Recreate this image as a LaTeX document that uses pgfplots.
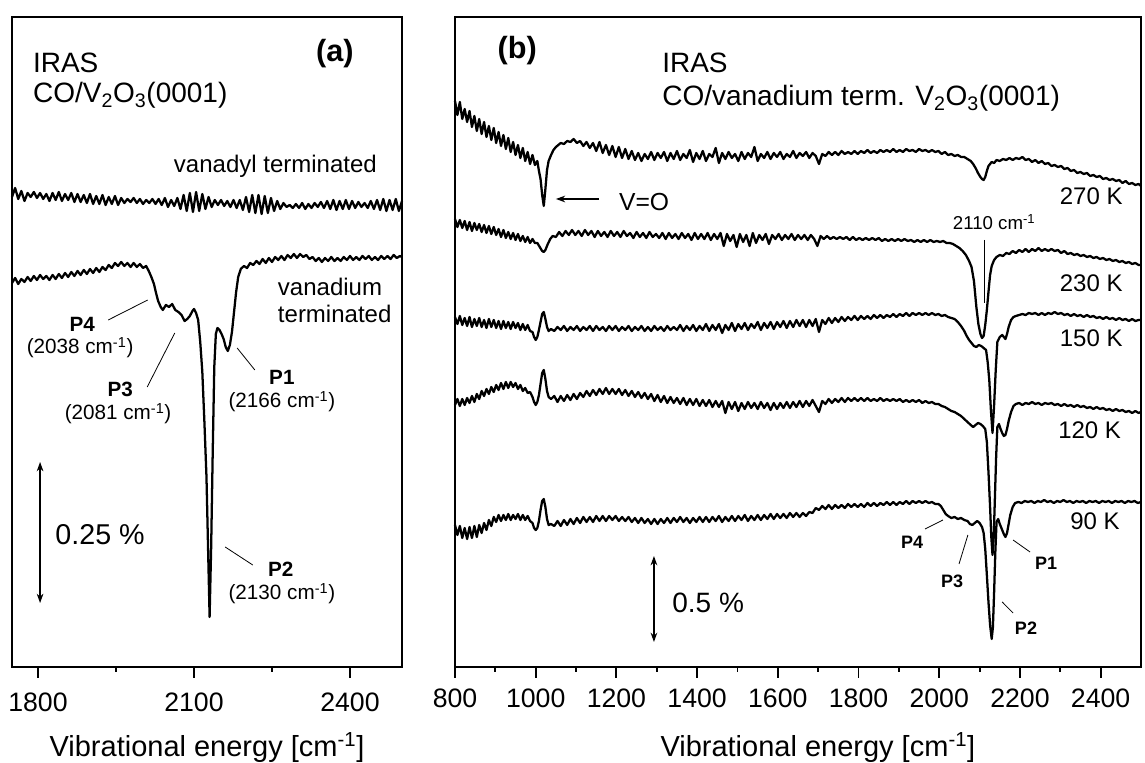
\documentclass[border=0pt]{standalone}
\usepackage{fontspec}
\setmainfont{Liberation Sans}
\usepackage{pgfplots}
\pgfplotsset{compat=1.18}
\usetikzlibrary{arrows.meta}
\newcommand\fs[1]{\fontsize{#1}{#1}\selectfont}
\tikzset{lab/.style={inner sep=0pt}, tr/.style={line width=1.7pt, black, line join=round, mark=none}}
\begin{document}
\begin{tikzpicture}
\useasboundingbox (0,0) rectangle (858.75pt,572.25pt);
\pgfplotsset{
 common/.style={
  scale only axis, height=487.5pt, ymin=0, ymax=650, ytick=\empty,
  axis line style={line width=1.6pt},
  tick align=outside, xtick pos=bottom,
  major tick length=8.25pt, minor tick length=3.75pt,
  tick style={line width=1.4pt, black},
  /pgf/number format/assume math mode=true,
  /pgf/number format/1000 sep={},
  clip=false,
 }
}
% ---------------- Panel (a) ----------------
\begin{axis}[common, at={(9pt,72pt)}, anchor=south west, width=292.5pt,
  xmin=1750, xmax=2500, xtick={1800,2100,2400}, minor xtick={1950,2250},
  xticklabel style={font=\fs{20}, yshift=-8pt},
  xlabel={Vibrational energy [cm\textsuperscript{-1}]},
  xlabel style={font=\fs{21.75}, anchor=base, at={(axis description cs:0.5,-0.137)}}]
% vanadyl terminated
\addplot[tr] coordinates {(1750,470)(1756,479)(1762,468)(1768,476)(1774,466)(1780,474)(1786,470)(1792,475)(1798,469)(1804,474)(1810,468)(1816,473)(1822,466)(1828,474)(1834,467)(1840,475)(1846,466)(1852,473)(1858,467)(1864,474)(1870,465)(1876,473)(1882,465)(1888,472)(1894,464)(1900,473)(1906,463)(1912,471)(1918,463)(1924,472)(1930,462)(1936,470)(1942,463)(1948,471)(1954,462)(1960,469)(1966,464)(1972,468)(1978,465)(1984,469)(1990,464)(1996,468)(2002,463)(2008,467)(2014,464)(2020,468)(2026,463)(2032,468)(2038,462)(2044,469)(2050,460)(2056,467)(2062,461)(2068,469)(2074,458)(2080,472)(2086,456)(2092,474)(2098,455)(2104,475)(2110,456)(2116,473)(2122,458)(2128,470)(2134,460)(2140,467)(2146,462)(2152,467)(2158,461)(2164,466)(2170,460)(2176,467)(2182,459)(2188,467)(2194,457)(2200,470)(2206,455)(2212,472)(2218,454)(2224,472)(2230,453)(2236,471)(2242,454)(2248,469)(2254,456)(2260,466)(2266,458)(2272,464)(2278,460)(2284,462)(2290,459)(2296,463)(2302,459)(2308,464)(2314,458)(2320,463)(2326,459)(2332,464)(2338,460)(2344,465)(2350,459)(2356,466)(2362,458)(2368,467)(2374,457)(2380,466)(2386,458)(2392,467)(2398,458)(2404,466)(2410,459)(2416,465)(2422,460)(2428,464)(2434,459)(2440,466)(2446,458)(2452,467)(2458,457)(2464,468)(2470,456)(2476,467)(2482,457)(2488,468)(2494,456)(2500,466)};
% vanadium terminated
\addplot[tr] coordinates {(1750,384)(1756,389)(1762,383)(1768,388)(1774,385)(1780,390)(1786,386)(1792,391)(1798,387)(1804,392)(1810,388)(1816,391)(1822,387)(1828,392)(1834,388)(1840,393)(1846,389)(1852,394)(1858,390)(1864,395)(1870,391)(1876,396)(1882,392)(1888,397)(1894,393)(1900,398)(1906,394)(1912,399)(1918,395)(1924,400)(1930,397)(1936,402)(1942,399)(1948,404)(1954,401)(1960,405)(1966,401)(1972,404)(1978,400)(1984,404)(1990,400)(1996,403)(2002,399)(2008,401)(2013,396)(2018,390)(2023,383)(2027,374)(2031,366)(2036,360)(2040,357)(2046,362)(2052,360)(2058,363)(2064,357)(2070,355)(2076,352)(2082,346)(2087,348)(2092,351)(2097,356)(2100,358)(2104,354)(2108,347)(2112,325)(2116,295)(2120,245)(2124,190)(2127,120)(2130,50)(2133,120)(2136,215)(2139,300)(2142,333)(2145,339)(2149,337)(2153,333)(2157,328)(2161,320)(2165,316)(2169,322)(2173,335)(2177,355)(2181,375)(2185,390)(2190,398)(2196,401)(2202,399)(2208,404)(2214,402)(2220,406)(2226,403)(2232,408)(2238,404)(2244,409)(2250,405)(2256,410)(2262,407)(2268,411)(2274,407)(2280,412)(2286,409)(2292,413)(2298,409)(2304,413)(2310,410)(2316,412)(2322,408)(2328,410)(2334,406)(2340,409)(2346,405)(2352,409)(2358,406)(2364,410)(2370,406)(2376,409)(2382,406)(2388,410)(2394,407)(2400,411)(2406,407)(2412,410)(2418,407)(2424,411)(2430,408)(2436,411)(2442,407)(2448,410)(2454,407)(2460,411)(2466,408)(2472,411)(2478,408)(2484,412)(2490,409)(2496,411)(2500,410)};
\node[lab, anchor=center, font=\bfseries\fs{23}] at (axis cs:2371,613) {(a)};
\node[lab, anchor=base west, font=\fs{21}] at (axis cs:1790,594) {IRAS};
\node[lab, anchor=base west, font=\fs{21}] at (axis cs:1790,564) {CO/V\textsubscript{2}O\textsubscript{3}(0001)};
\node[lab, anchor=base west, font=\fs{18}] at (axis cs:2061,494) {vanadyl terminated};
\node[lab, anchor=base west, font=\fs{18}] at (axis cs:2261,371) {vanadium};
\node[lab, anchor=base west, font=\fs{18}] at (axis cs:2261,344) {terminated};
\draw[line width=0.6pt] (axis cs:2011,367) -- (axis cs:1935,347);
\node[lab, anchor=base, font=\bfseries\fs{15.5}] at (axis cs:1885,335) {P4};
\node[lab, anchor=base, font=\fs{15.5}] at (axis cs:1881,313) {(2038 cm\textsuperscript{-1})};
\draw[line width=0.6pt] (axis cs:2063,334) -- (axis cs:2010,280);
\node[lab, anchor=base, font=\bfseries\fs{15.5}] at (axis cs:1958,270) {P3};
\node[lab, anchor=base, font=\fs{15.5}] at (axis cs:1954,247) {(2081 cm\textsuperscript{-1})};
\draw[line width=0.6pt] (axis cs:2183,319) -- (axis cs:2217,297);
\node[lab, anchor=base, font=\bfseries\fs{15.5}] at (axis cs:2269,282) {P1};
\node[lab, anchor=base, font=\fs{15.5}] at (axis cs:2269,259) {(2166 cm\textsuperscript{-1})};
\draw[line width=0.6pt] (axis cs:2160,120) -- (axis cs:2213,102);
\node[lab, anchor=base, font=\bfseries\fs{15.5}] at (axis cs:2267,90) {P2};
\node[lab, anchor=base, font=\fs{15.5}] at (axis cs:2269,67) {(2130 cm\textsuperscript{-1})};
\draw[line width=0.9pt, {Stealth[length=7pt,width=5pt]}-{Stealth[length=7pt,width=5pt]}] (axis cs:1804,205) -- (axis cs:1804,64);
\node[lab, anchor=base west, font=\fs{21.5}] at (axis cs:1833,122) {0.25 \%};
\end{axis}
% ---------------- Panel (b) ----------------
\begin{axis}[common, at={(341.25pt,72pt)}, anchor=south west, width=514.5pt,
  xmin=800, xmax=2500, xtick={800,1000,...,2400}, minor xtick={900,1100,...,2300},
  xticklabel style={font=\fs{20}, yshift=-5pt},
  xlabel={Vibrational energy [cm\textsuperscript{-1}]},
  xlabel style={font=\fs{21.75}, anchor=base, at={(axis description cs:0.529,-0.137)}}]
% 270 K
\addplot[tr] coordinates {(800,566)(806,552)(812,565)(818,548)(824,558)(830,545)(836,556)(842,540)(848,551)(854,536)(860,548)(866,533)(872,545)(878,530)(884,541)(890,527)(896,539)(902,524)(908,535)(914,521)(920,532)(926,518)(932,529)(938,515)(944,525)(950,512)(956,522)(962,509)(968,519)(974,506)(980,515)(986,503)(992,512)(998,502)(1004,506)(1008,496)(1012,488)(1016,472)(1020,461)(1024,478)(1028,497)(1032,506)(1038,512)(1044,517)(1050,520)(1056,522)(1062,524)(1070,523)(1078,526)(1086,525)(1094,528)(1102,524)(1110,526)(1118,521)(1126,525)(1134,519)(1142,524)(1150,516)(1158,525)(1166,514)(1174,522)(1182,512)(1190,521)(1198,510)(1206,520)(1214,509)(1222,518)(1230,508)(1238,516)(1246,507)(1254,514)(1262,506)(1270,513)(1278,508)(1286,515)(1294,507)(1302,514)(1310,509)(1318,515)(1326,506)(1334,514)(1342,508)(1350,516)(1358,507)(1366,513)(1374,509)(1382,517)(1390,505)(1398,514)(1406,508)(1414,516)(1422,506)(1430,513)(1438,510)(1446,519)(1454,504)(1462,514)(1470,508)(1478,515)(1486,509)(1494,513)(1502,506)(1510,515)(1518,508)(1526,514)(1534,510)(1542,520)(1550,506)(1558,513)(1566,509)(1574,515)(1582,508)(1590,514)(1598,510)(1606,515)(1614,508)(1622,513)(1630,510)(1638,516)(1646,509)(1654,514)(1662,511)(1670,515)(1678,509)(1686,514)(1694,511)(1702,503)(1710,513)(1718,511)(1726,515)(1734,512)(1742,515)(1750,512)(1758,516)(1766,513)(1774,515)(1782,513)(1790,516)(1798,513)(1806,516)(1814,514)(1822,517)(1830,514)(1838,516)(1846,514)(1854,517)(1862,515)(1870,517)(1878,515)(1886,518)(1894,515)(1902,517)(1910,515)(1918,518)(1926,516)(1934,517)(1942,515)(1950,518)(1958,516)(1966,517)(1974,515)(1982,517)(1990,515)(1998,516)(2006,513)(2014,515)(2022,512)(2030,513)(2038,511)(2046,512)(2054,510)(2062,510)(2070,508)(2078,506)(2084,503)(2090,499)(2096,494)(2102,490)(2106,488)(2110,487)(2114,490)(2118,496)(2122,501)(2126,503)(2130,505)(2136,504)(2142,507)(2150,506)(2158,508)(2166,507)(2174,509)(2182,507)(2190,509)(2198,508)(2206,510)(2214,507)(2222,508)(2230,505)(2238,507)(2246,504)(2254,506)(2262,503)(2270,504)(2278,501)(2286,502)(2294,500)(2302,501)(2310,498)(2318,499)(2326,496)(2334,497)(2342,494)(2350,495)(2358,493)(2366,494)(2374,491)(2382,492)(2390,490)(2398,491)(2406,488)(2414,489)(2422,487)(2430,488)(2438,486)(2446,487)(2454,484)(2462,486)(2470,483)(2478,484)(2486,482)(2494,483)(2500,481)};
% 230 K
\addplot[tr] coordinates {(800,448)(806,440)(812,447)(818,439)(824,446)(830,437)(836,445)(842,436)(848,444)(854,437)(860,443)(866,435)(872,442)(878,434)(884,441)(890,433)(896,440)(902,432)(908,438)(914,430)(920,437)(926,429)(932,435)(938,428)(944,434)(950,427)(956,433)(962,426)(968,431)(974,425)(980,430)(986,424)(992,428)(998,424)(1004,424)(1010,420)(1016,416)(1020,415)(1024,417)(1030,423)(1036,428)(1042,431)(1050,430)(1058,435)(1066,431)(1074,436)(1082,432)(1090,437)(1098,432)(1106,436)(1114,431)(1122,437)(1130,432)(1138,436)(1146,430)(1154,436)(1162,431)(1170,435)(1178,430)(1186,436)(1194,431)(1202,435)(1210,430)(1218,436)(1226,431)(1234,434)(1242,429)(1250,435)(1258,430)(1266,434)(1274,429)(1282,435)(1290,430)(1298,433)(1306,429)(1314,434)(1322,428)(1330,434)(1338,429)(1346,433)(1354,428)(1362,434)(1370,429)(1378,433)(1386,427)(1394,434)(1402,428)(1410,433)(1418,428)(1426,434)(1434,427)(1442,433)(1450,428)(1458,434)(1466,421)(1474,433)(1482,426)(1490,432)(1498,420)(1506,433)(1514,425)(1522,432)(1530,421)(1538,434)(1546,424)(1554,432)(1562,427)(1570,433)(1578,423)(1586,432)(1594,428)(1602,433)(1610,427)(1618,432)(1626,428)(1634,433)(1642,427)(1650,432)(1658,428)(1666,432)(1674,427)(1682,432)(1690,428)(1698,421)(1706,431)(1714,428)(1722,431)(1730,428)(1738,430)(1746,428)(1754,430)(1762,428)(1770,430)(1778,427)(1786,430)(1794,427)(1802,429)(1810,427)(1818,429)(1826,427)(1834,429)(1842,427)(1850,429)(1858,426)(1866,428)(1874,426)(1882,428)(1890,426)(1898,428)(1906,426)(1914,428)(1922,426)(1930,427)(1938,425)(1946,427)(1954,425)(1962,427)(1970,425)(1978,427)(1986,425)(1994,426)(2002,425)(2010,426)(2018,424)(2026,424)(2034,423)(2042,421)(2050,419)(2058,416)(2066,412)(2074,406)(2080,400)(2086,386)(2092,360)(2097,343)(2102,333)(2106,329)(2110,331)(2114,342)(2118,357)(2122,375)(2126,392)(2130,401)(2136,407)(2142,410)(2150,412)(2158,411)(2166,414)(2174,413)(2182,416)(2190,414)(2198,417)(2206,415)(2214,418)(2222,415)(2230,418)(2238,416)(2246,419)(2254,416)(2262,418)(2270,416)(2278,418)(2286,416)(2294,417)(2302,414)(2310,416)(2318,413)(2326,414)(2334,412)(2342,413)(2350,411)(2358,412)(2366,410)(2374,411)(2382,409)(2390,410)(2398,408)(2406,409)(2414,407)(2422,408)(2430,406)(2438,407)(2446,405)(2454,406)(2462,404)(2470,405)(2478,403)(2486,404)(2494,402)(2500,402)};
% 150 K
\addplot[tr] coordinates {(800,350)(806,343)(812,351)(818,342)(824,349)(830,341)(836,350)(842,340)(848,348)(854,341)(860,349)(866,340)(872,347)(878,339)(884,348)(890,340)(896,347)(902,339)(908,346)(914,338)(920,346)(926,339)(932,345)(938,338)(944,345)(950,339)(956,344)(962,337)(968,343)(974,337)(980,342)(986,336)(992,335)(996,330)(1000,327)(1004,330)(1008,337)(1012,345)(1016,353)(1020,355)(1024,348)(1028,340)(1032,336)(1038,338)(1046,336)(1054,340)(1062,337)(1070,341)(1078,336)(1086,340)(1094,337)(1102,341)(1110,336)(1118,340)(1126,337)(1134,341)(1142,336)(1150,341)(1158,337)(1166,340)(1174,336)(1182,341)(1190,337)(1198,341)(1206,336)(1214,340)(1222,337)(1230,341)(1238,336)(1246,340)(1254,337)(1262,341)(1270,336)(1278,340)(1286,336)(1294,341)(1302,337)(1310,340)(1318,336)(1326,341)(1334,337)(1342,340)(1350,337)(1358,342)(1366,336)(1374,341)(1382,337)(1390,342)(1398,336)(1406,341)(1414,337)(1422,343)(1430,336)(1438,342)(1446,337)(1454,343)(1462,334)(1470,342)(1478,337)(1486,344)(1494,336)(1502,343)(1510,338)(1518,344)(1526,337)(1534,343)(1542,339)(1550,345)(1558,337)(1566,344)(1574,339)(1582,345)(1590,338)(1598,345)(1606,340)(1614,346)(1622,339)(1630,346)(1638,340)(1646,347)(1654,341)(1662,347)(1670,340)(1678,347)(1686,341)(1694,348)(1702,335)(1710,347)(1718,343)(1726,349)(1734,344)(1742,349)(1750,345)(1758,350)(1766,346)(1774,350)(1782,347)(1790,351)(1798,347)(1806,351)(1814,348)(1822,351)(1830,348)(1838,352)(1846,349)(1854,352)(1862,349)(1870,352)(1878,350)(1886,353)(1894,350)(1902,353)(1910,351)(1918,354)(1926,351)(1934,354)(1942,352)(1950,354)(1958,352)(1966,354)(1974,352)(1982,354)(1990,352)(1998,353)(2006,351)(2014,352)(2022,350)(2030,349)(2038,348)(2046,345)(2054,341)(2062,336)(2068,331)(2074,327)(2080,324)(2086,321)(2092,320)(2098,322)(2104,321)(2110,319)(2116,317)(2120,305)(2124,287)(2128,257)(2132,234)(2136,262)(2140,297)(2144,325)(2150,330)(2156,332)(2160,330)(2164,328)(2168,333)(2172,340)(2178,347)(2184,350)(2190,351)(2198,352)(2206,353)(2214,352)(2222,354)(2230,353)(2238,354)(2246,352)(2254,354)(2262,352)(2270,354)(2278,353)(2286,355)(2294,353)(2302,354)(2310,352)(2318,353)(2326,351)(2334,353)(2342,351)(2350,352)(2358,350)(2366,352)(2374,350)(2382,351)(2390,349)(2398,350)(2406,348)(2414,350)(2422,348)(2430,349)(2438,347)(2446,349)(2454,347)(2462,348)(2470,346)(2478,348)(2486,346)(2494,347)(2500,347)};
% 120 K
\addplot[tr] coordinates {(800,262)(806,268)(812,261)(818,268)(824,262)(830,269)(836,264)(842,271)(848,265)(854,273)(860,268)(866,276)(872,271)(878,278)(884,273)(890,280)(896,275)(902,282)(908,277)(914,284)(920,278)(926,285)(932,279)(938,285)(944,280)(950,284)(956,278)(962,282)(968,276)(974,279)(980,274)(986,275)(992,270)(996,265)(1000,262)(1004,265)(1008,272)(1012,283)(1016,294)(1020,297)(1024,288)(1028,276)(1032,270)(1038,268)(1046,271)(1054,265)(1062,271)(1070,266)(1078,272)(1086,267)(1094,273)(1102,268)(1110,274)(1118,270)(1126,276)(1134,271)(1142,277)(1150,272)(1158,278)(1166,273)(1174,279)(1182,273)(1190,278)(1198,273)(1206,278)(1214,272)(1222,277)(1230,271)(1238,276)(1246,270)(1254,275)(1262,269)(1270,274)(1278,268)(1286,273)(1294,266)(1302,272)(1310,265)(1318,271)(1326,264)(1334,270)(1342,264)(1350,269)(1358,263)(1366,269)(1374,262)(1382,268)(1390,262)(1398,268)(1406,261)(1414,267)(1422,261)(1430,267)(1438,260)(1446,266)(1454,260)(1462,266)(1470,254)(1478,265)(1486,258)(1494,265)(1502,256)(1510,264)(1518,258)(1526,265)(1534,259)(1542,264)(1550,258)(1558,265)(1566,259)(1574,264)(1582,257)(1590,264)(1598,258)(1606,264)(1614,259)(1622,265)(1630,259)(1638,265)(1646,260)(1654,266)(1662,260)(1670,266)(1678,261)(1686,267)(1694,261)(1702,255)(1710,266)(1718,263)(1726,268)(1734,264)(1742,268)(1750,265)(1758,269)(1766,265)(1774,269)(1782,266)(1790,269)(1798,266)(1806,269)(1814,266)(1822,269)(1830,266)(1838,268)(1846,266)(1854,269)(1862,266)(1870,268)(1878,266)(1886,268)(1894,266)(1902,268)(1910,265)(1918,267)(1926,265)(1934,267)(1942,265)(1950,267)(1958,264)(1966,266)(1974,264)(1982,265)(1990,263)(1998,263)(2006,261)(2014,260)(2022,258)(2030,256)(2038,255)(2046,253)(2054,251)(2062,248)(2070,245)(2078,242)(2084,240)(2090,242)(2096,244)(2102,243)(2108,241)(2114,238)(2118,225)(2122,195)(2126,160)(2129,130)(2132,112)(2135,130)(2138,170)(2141,210)(2144,240)(2148,243)(2152,238)(2156,234)(2160,231)(2164,232)(2168,238)(2172,246)(2178,255)(2184,261)(2190,263)(2198,264)(2206,262)(2214,264)(2222,263)(2230,265)(2238,263)(2246,264)(2254,262)(2262,264)(2270,263)(2278,264)(2286,262)(2294,263)(2302,261)(2310,263)(2318,261)(2326,262)(2334,260)(2342,262)(2350,260)(2358,261)(2366,259)(2374,260)(2382,258)(2390,260)(2398,258)(2406,259)(2414,257)(2422,258)(2430,256)(2438,258)(2446,256)(2454,257)(2462,255)(2470,256)(2478,254)(2486,256)(2494,254)(2500,255)};
% 90 K
\addplot[tr] coordinates {(800,142)(806,132)(812,141)(818,129)(824,139)(830,128)(836,140)(842,129)(848,141)(854,130)(860,142)(866,134)(872,144)(878,137)(884,147)(890,141)(896,150)(902,145)(908,152)(914,146)(920,152)(926,147)(932,153)(938,147)(944,152)(950,148)(956,153)(962,147)(968,152)(974,147)(980,151)(986,146)(992,144)(996,139)(1000,137)(1004,139)(1008,146)(1012,157)(1016,166)(1020,168)(1024,160)(1028,148)(1032,142)(1038,143)(1046,141)(1054,146)(1062,141)(1070,147)(1078,142)(1086,148)(1094,143)(1102,149)(1110,144)(1118,150)(1126,145)(1134,150)(1142,145)(1150,151)(1158,146)(1166,151)(1174,146)(1182,151)(1190,147)(1198,151)(1206,146)(1214,150)(1222,146)(1230,150)(1238,145)(1246,149)(1254,144)(1262,149)(1270,144)(1278,148)(1286,143)(1294,148)(1302,143)(1310,148)(1318,144)(1326,149)(1334,144)(1342,149)(1350,145)(1358,150)(1366,145)(1374,149)(1382,144)(1390,149)(1398,145)(1406,150)(1414,145)(1422,150)(1430,145)(1438,150)(1446,146)(1454,151)(1462,145)(1470,150)(1478,146)(1486,151)(1494,146)(1502,151)(1510,147)(1518,152)(1526,146)(1534,151)(1542,147)(1550,152)(1558,147)(1566,152)(1574,148)(1582,153)(1590,148)(1598,153)(1606,149)(1614,153)(1622,149)(1630,154)(1638,150)(1646,154)(1654,150)(1662,154)(1670,151)(1678,155)(1686,154)(1694,159)(1702,157)(1710,161)(1718,158)(1726,162)(1734,158)(1742,162)(1750,159)(1758,162)(1766,159)(1774,163)(1782,160)(1790,163)(1798,160)(1806,163)(1814,160)(1822,164)(1830,161)(1838,164)(1846,161)(1854,164)(1862,162)(1870,165)(1878,162)(1886,165)(1894,162)(1902,165)(1910,163)(1918,166)(1926,163)(1934,166)(1942,164)(1950,166)(1958,164)(1966,166)(1974,164)(1982,165)(1990,163)(1998,163)(2004,161)(2010,157)(2016,153)(2022,151)(2030,149)(2038,150)(2046,148)(2054,149)(2062,147)(2070,146)(2076,143)(2082,142)(2088,144)(2094,146)(2100,144)(2106,140)(2110,134)(2114,118)(2118,92)(2122,65)(2126,42)(2130,28)(2133,40)(2136,75)(2139,115)(2142,145)(2146,148)(2150,143)(2155,138)(2160,133)(2164,130)(2168,134)(2172,143)(2176,152)(2182,160)(2188,164)(2196,165)(2204,164)(2212,166)(2220,165)(2228,166)(2236,164)(2244,166)(2252,165)(2260,167)(2268,165)(2276,166)(2284,164)(2292,166)(2300,165)(2308,167)(2316,165)(2324,166)(2332,164)(2340,166)(2348,165)(2356,166)(2364,164)(2372,166)(2380,165)(2388,166)(2396,164)(2404,166)(2412,165)(2420,166)(2428,164)(2436,166)(2444,165)(2452,166)(2460,164)(2468,166)(2476,165)(2484,166)(2492,164)(2500,165)};
\node[lab, anchor=center, font=\bfseries\fs{23}] at (axis cs:954,616) {(b)};
\node[lab, anchor=base west, font=\fs{21}] at (axis cs:1313,594) {IRAS};
\node[lab, anchor=base west, font=\fs{21}] at (axis cs:1313,561) {CO/vanadium term. V\textsubscript{2}O\textsubscript{3}(0001)};
\draw[line width=0.9pt, -{Stealth[length=7pt,width=5pt]}] (axis cs:1157,468) -- (axis cs:1050,468);
\node[lab, anchor=base west, font=\fs{18.5}] at (axis cs:1206,456) {V=O};
\node[lab, anchor=base east, font=\fs{18}] at (axis cs:2455,462) {270 K};
\node[lab, anchor=base, font=\fs{14}] at (axis cs:2136,437) {2110 cm\textsuperscript{-1}};
\draw[line width=0.6pt] (axis cs:2113,427) -- (axis cs:2113,364);
\node[lab, anchor=base east, font=\fs{18}] at (axis cs:2455,375) {230 K};
\node[lab, anchor=base east, font=\fs{18}] at (axis cs:2455,320) {150 K};
\node[lab, anchor=base east, font=\fs{18}] at (axis cs:2451,228) {120 K};
\node[lab, anchor=base east, font=\fs{18}] at (axis cs:2448,137) {90 K};
\draw[line width=0.6pt] (axis cs:2009,147) -- (axis cs:1965,138);
\node[lab, anchor=base, font=\bfseries\fs{13.5}] at (axis cs:1933,118) {P4};
\draw[line width=0.6pt] (axis cs:2071,132) -- (axis cs:2049,103);
\node[lab, anchor=base, font=\bfseries\fs{13.5}] at (axis cs:2032,79) {P3};
\draw[line width=0.6pt] (axis cs:2183,127) -- (axis cs:2225,115);
\node[lab, anchor=base, font=\bfseries\fs{13.5}] at (axis cs:2265,97) {P1};
\draw[line width=0.6pt] (axis cs:2156,65) -- (axis cs:2183,54);
\node[lab, anchor=base, font=\bfseries\fs{13.5}] at (axis cs:2215,32) {P2};
\draw[line width=0.9pt, {Stealth[length=7pt,width=5pt]}-{Stealth[length=7pt,width=5pt]}] (axis cs:1293,111) -- (axis cs:1293,25);
\node[lab, anchor=base west, font=\fs{21}] at (axis cs:1338,54) {0.5 \%};
\end{axis}
\end{tikzpicture}
\end{document}
